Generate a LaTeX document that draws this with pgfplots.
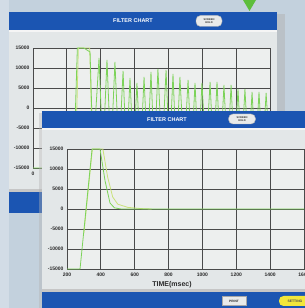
\documentclass[border=0pt]{standalone}
\usepackage{pgfplots}
\pgfplotsset{compat=1.18}
\usepackage{fontspec}
\setmainfont{Liberation Sans}
\definecolor{bg}{HTML}{C3D1DD}
\definecolor{bgl}{HTML}{D2DCE6}
\definecolor{barblue}{HTML}{1B55B2}
\definecolor{panel}{HTML}{E3E7E8}
\definecolor{plotbg}{HTML}{EDEFEE}
\definecolor{gridc}{HTML}{4A4A4A}
\definecolor{lg}{HTML}{7DD35A}
\definecolor{ly}{HTML}{C9E27A}
\definecolor{trig}{HTML}{5DBE3C}
\definecolor{txt}{HTML}{2A2A2A}
\definecolor{pill}{HTML}{E8EAEA}
\definecolor{yel}{HTML}{F2E63A}
\newcommand\tk{\fontsize{5}{5}\selectfont\bfseries}
\newcommand\tinyb{\fontsize{2.6}{2.8}\selectfont\bfseries}
\pgfplotsset{
  win/.style={
    scale only axis, width=237pt, height=120pt,
    ymin=-15000, ymax=15000,
    ytick={-15000,-10000,-5000,0,5000,10000,15000},
    yticklabels={-15000,-10000,-5000,0,5000,10000,15000},
    scaled ticks=false,
    grid=major,
    major grid style={gridc, line width=0.9pt},
    axis line style={gridc, line width=0.9pt},
    major tick length=0pt,
    tick label style={font=\tk, text=txt},
    axis background/.style={fill=plotbg},
    clip=false,
  }
}
\begin{document}
\begin{tikzpicture}[x=1pt,y=1pt]
\path[use as bounding box] (0,0) rectangle (305,308);
\clip (0,0) rectangle (305,308);
\fill[bg] (0,0) rectangle (305,308);
\fill[bgl] (0,0) rectangle (9,308);
% green triangle marker
\fill[trig] (243,308) -- (256,308) -- (249.5,297) -- cycle;
% back window
\fill[black!30, opacity=.5] (277,92) rectangle (285,294);
\fill[panel] (9,95) rectangle (277,296);
\fill[barblue] (9,278) rectangle (277,296);
\fill[white!92!gray] (9,276) rectangle (277,278);
\fill[barblue] (9,95) rectangle (277,116);
\fill[gray!45] (9,116) rectangle (277,118.5);
\node[text=white, font=\fontsize{5.5}{6}\selectfont\bfseries] at (133,287) {FILTER CHART};
\node[fill=pill, draw=gray!60, rounded corners=4.5pt, minimum width=26pt, minimum height=11pt, inner sep=0pt, align=center, text=gray!40!black, font=\tinyb] at (209,287) {SCREEN\\HOLD};

\begin{axis}[win, at={(33pt,140pt)}, anchor=south west,
  xmin=0, xmax=1400, xtick={0,200,...,1400},
  xticklabels={0,200,400,600,800,1000,1200,1400}]
\addplot[ly, line width=0.8pt] coordinates {(250,-15000) (268,15000) (335,15000) (352,-12000)};
\addplot[lg, line width=0.8pt] coordinates {
(0,-15000) (240,-15000) (262,15000) (300,15000) (337,14000) (355,-12000)
(390,12500) (413,-12000) (437,12000) (460,-12000) (484,11500) (508,-12000)
(532,9250) (552,-12000) (573,7500) (593,-12000) (614,6250) (635,-12000)
(656,7750) (676,-12000) (697,9000) (717,-12000) (738,9750) (762,-12000)
(786,9500) (806,-12000) (827,8500) (847,-12000) (868,7750) (892,-12000)
(916,7000) (936,-12000) (957,6250) (977,-12000) (998,6250) (1022,-12000)
(1046,6500) (1066,-12000) (1087,6500) (1107,-12000) (1128,5750) (1149,-12000)
(1170,5750) (1190,-12000) (1211,4750) (1231,-12000) (1252,4750) (1273,-12000)
(1294,4000) (1314,-12000) (1335,4000) (1356,-12000) (1377,3750) (1400,-12000)};
\end{axis}

% front window
\fill[black!30, opacity=.4] (39,0) rectangle (42,195);
\fill[panel] (42,0) rectangle (305,197);
\fill[barblue] (42,180) rectangle (305,197);
\fill[white!92!gray] (42,178) rectangle (305,180);
\fill[barblue] (42,0) rectangle (305,16);
\fill[gray!45] (42,16) rectangle (305,18.5);
\node[text=white, font=\fontsize{5.5}{6}\selectfont\bfseries] at (167,188.5) {FILTER CHART};
\node[fill=pill, draw=gray!60, rounded corners=4.5pt, minimum width=27pt, minimum height=10pt, inner sep=0pt, align=center, text=gray!40!black, font=\tinyb] at (242,189) {SCREEN\\HOLD};
\node[fill=pill, draw=gray!70, minimum width=24pt, minimum height=9pt, inner sep=0pt, text=gray!30!black, font=\fontsize{3.2}{3.5}\selectfont\bfseries] at (234,7) {PRINT};
\node[fill=yel, rounded corners=4.5pt, minimum width=32pt, minimum height=10pt, inner sep=0pt, text=gray!60!black, font=\fontsize{3.4}{3.5}\selectfont\bfseries] at (295,7) {SETTING};

\begin{axis}[win, at={(67pt,39pt)}, anchor=south west,
  xmin=200, xmax=1600, xtick={200,400,...,1600},
  xticklabels={200,400,600,800,1000,1200,1400,1600},
  xlabel={TIME(msec)},
  xlabel style={at={(axis description cs:0.443,-0.1)}, anchor=north, inner sep=0pt,
    font=\fontsize{7}{7}\selectfont\bfseries, text=txt}]
\addplot[ly, line width=0.8pt] coordinates {(300,-6000) (350,15000) (412,15000) (440,8000) (470,3000) (500,1200) (560,400) (640,100) (700,0)};
\addplot[lg, line width=0.8pt] coordinates {(200,-15000) (277,-15000) (348,15000) (395,15000) (425,7000) (454,1500) (480,300) (520,0) (1600,0)};
\end{axis}
\end{tikzpicture}
\end{document}
